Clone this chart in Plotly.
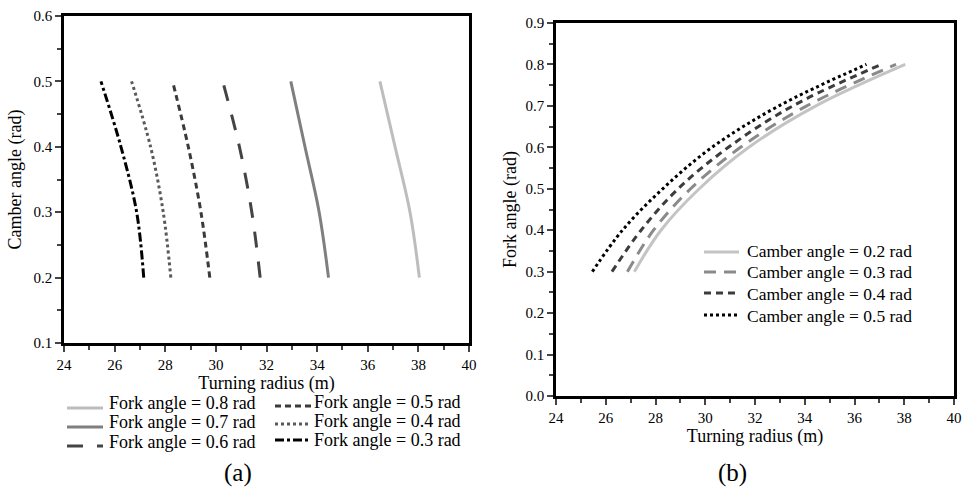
import plotly.graph_objects as go

# ---- data ----
camber_angles = [0.2, 0.3, 0.4, 0.5]          # rad
fork_angles = [0.3, 0.4, 0.5, 0.6, 0.7, 0.8]  # rad
# turning radius (m) for each fork angle, at camber angles 0.2, 0.3, 0.4, 0.5
radius_fork_03 = [27.15, 26.87, 26.25, 25.46]
radius_fork_04 = [28.22, 27.92, 27.42, 26.67]
radius_fork_05 = [29.76, 29.41, 28.91, 28.29]
radius_fork_06 = [31.75, 31.42, 30.93, 30.27]
radius_fork_07 = [34.45, 34.08, 33.52, 32.96]
radius_fork_08 = [38.04, 37.67, 37.08, 36.48]
radius_by_fork = [radius_fork_03, radius_fork_04, radius_fork_05,
                  radius_fork_06, radius_fork_07, radius_fork_08]

x_ticks = [24, 26, 28, 30, 32, 34, 36, 38, 40]
y_ticks_a = [0.1, 0.2, 0.3, 0.4, 0.5, 0.6]
y_ticks_b = [0.0, 0.1, 0.2, 0.3, 0.4, 0.5, 0.6, 0.7, 0.8, 0.9]

FONT = "Liberation Serif"
W, H = 963, 491
# plotting region in pixels (inside the margins)
PL, PR, PT, PB = 64, 956, 16, 396

def px(x):
    return (x - PL) / (PR - PL)

def py(y):
    return (PB - y) / (PB - PT)

fig = go.Figure()

styles_a = {
    0.8: ("#bdbdbd", "solid"),
    0.7: ("#7f7f7f", "solid"),
    0.6: ("#444444", "16px,14px"),
    0.5: ("#3a3a3a", "6px,4px"),
    0.4: ("#5a5a5a", "dot"),
    0.3: ("#000000", "dashdot"),
}
styles_b = [
    ("#c4c4c4", "solid"),
    ("#8a8a8a", "12px,8px"),
    ("#3c3c3c", "7px,5px"),
    ("#000000", "dot"),
]

for fa in [0.8, 0.7, 0.6, 0.5, 0.4, 0.3]:
    idx = fork_angles.index(fa)
    col, dash = styles_a[fa]
    fig.add_trace(go.Scatter(
        x=radius_by_fork[idx], y=camber_angles, mode="lines",
        name=f"Fork angle = {fa} rad", showlegend=False,
        line=dict(color=col, width=3, dash=dash, shape="spline"),
        xaxis="x", yaxis="y",
    ))

for j, ca in enumerate(camber_angles):
    xs = [r[j] for r in radius_by_fork]
    col, dash = styles_b[j]
    fig.add_trace(go.Scatter(
        x=xs, y=fork_angles, mode="lines",
        name=f"Camber angle = {ca} rad", showlegend=False,
        line=dict(color=col, width=3, dash=dash, shape="spline"),
        xaxis="x2", yaxis="y2",
    ))

def xax(domain, anchor):
    return dict(domain=domain, anchor=anchor, range=[24, 40], automargin=False,
                tickvals=x_ticks, ticks="outside", ticklen=6, tickwidth=2,
                minor=dict(dtick=1, tick0=24, ticks="outside", ticklen=4, tickwidth=2),
                showline=True, linewidth=2.5, linecolor="black", mirror=True,
                showgrid=False, zeroline=False,
                tickfont=dict(family=FONT, size=15, color="black"),
                title=dict(text="Turning radius (m)", standoff=2,
                           font=dict(family=FONT, size=18, color="black")))

def yax(domain, anchor, rng, ticks, title, standoff):
    return dict(domain=domain, anchor=anchor, range=rng, automargin=False,
                tickvals=ticks, tickformat=".1f", ticks="outside", ticklen=6, tickwidth=2,
                minor=dict(dtick=0.05, tick0=0, ticks="outside", ticklen=4, tickwidth=2),
                showline=True, linewidth=2.5, linecolor="black", mirror=True,
                showgrid=False, zeroline=False,
                tickfont=dict(family=FONT, size=15, color="black"),
                title=dict(text=title, standoff=standoff,
                           font=dict(family=FONT, size=18, color="black")))

# ---- hand-placed legends ----
shapes, annotations = [], []

def legend_entry(x0, x1, y_line, x_text, y_text, text, col, dash, size):
    shapes.append(dict(type="line", xref="paper", yref="paper",
                       x0=px(x0), x1=px(x1), y0=py(y_line), y1=py(y_line),
                       line=dict(color=col, width=3, dash=dash)))
    annotations.append(dict(text=text, x=px(x_text), y=py(y_text),
                            xref="paper", yref="paper", xanchor="left", yanchor="middle",
                            showarrow=False,
                            font=dict(family=FONT, size=size, color="black")))

col1 = [0.8, 0.7, 0.6]
col2 = [0.5, 0.4, 0.3]
rows_text_1 = [403, 422, 442]
rows_line_1 = [408, 427, 446]
for fa, yt, yl in zip(col1, rows_text_1, rows_line_1):
    c, d = styles_a[fa]
    legend_entry(67, 103, yl, 107, yt, f"Fork angle = {fa} rad", c, d, 18)
rows_text_2 = [402, 421, 440]
rows_line_2 = [406, 424, 440]
for fa, yt, yl in zip(col2, rows_text_2, rows_line_2):
    c, d = styles_a[fa]
    legend_entry(275, 311, yl, 312, yt, f"Fork angle = {fa} rad", c, d, 18)

rows_text_b = [251, 272, 294, 316]
rows_line_b = [252, 272, 293, 315]
for j, ca in enumerate(camber_angles):
    c, d = styles_b[j]
    legend_entry(704, 739, rows_line_b[j], 745, rows_text_b[j],
                 f"Camber angle = {ca} rad", c, d, 17.5)

annotations.append(dict(text="(a)", x=px(238), y=py(473), xref="paper", yref="paper",
                        xanchor="center", yanchor="middle",
                        showarrow=False, font=dict(family=FONT, size=25, color="black")))
annotations.append(dict(text="(b)", x=px(732), y=py(473), xref="paper", yref="paper",
                        xanchor="center", yanchor="middle",
                        showarrow=False, font=dict(family=FONT, size=25, color="black")))

fig.update_layout(
    width=W, height=H,
    margin=dict(l=PL, r=W - PR, t=PT, b=H - PB, autoexpand=False),
    paper_bgcolor="white", plot_bgcolor="white",
    showlegend=False,
    xaxis=xax([px(64), px(469)], "y"),
    yaxis=yax([py(343), py(16)], "x", [0.1, 0.6], y_ticks_a, "Camber angle (rad)", 8),
    xaxis2=xax([px(556), px(954)], "y2"),
    yaxis2=yax([py(396), py(23)], "x2", [0.0, 0.9], y_ticks_b, "Fork angle (rad)", 5),
    shapes=shapes,
    annotations=annotations,
)

# remove the default 8px page margin so the figure starts at the window corner
fig.write_html("out.html", config={"displayModeBar": False},
               post_script="document.body.style.margin='0';")
